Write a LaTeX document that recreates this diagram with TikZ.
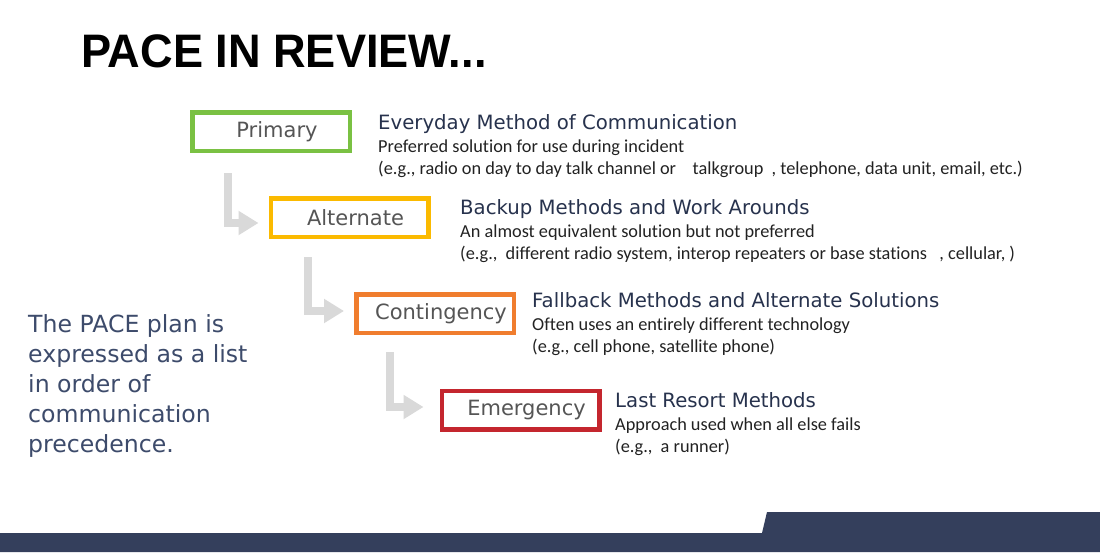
\documentclass[tikz,border=0pt]{standalone}
\usepackage{fontspec}
\usepackage{graphicx}
\usetikzlibrary{arrows.meta,calc}
\newfontfamily\djv{DejaVu Sans}
\newfontfamily\carl{Carlito}[Ligatures={NoCommon}]
\newfontfamily\libs{Liberation Sans}
\definecolor{pgreen}{HTML}{7AC143}
\definecolor{pyellow}{HTML}{FBBA00}
\definecolor{porange}{HTML}{F07D2E}
\definecolor{pred}{HTML}{C4262E}
\definecolor{navy}{HTML}{343F5C}
\definecolor{headc}{HTML}{27324D}
\definecolor{leftc}{HTML}{3D4B6B}
\definecolor{boxtxt}{HTML}{555555}
\definecolor{arrowgray}{HTML}{D9D9D9}
\definecolor{subc}{HTML}{222222}
\begin{document}
\begin{tikzpicture}[x=1pt,y=-1pt,
  pbox/.style={draw=#1, line width=4.5pt, fill=white, minimum width=157.5pt, minimum height=38.5pt, inner sep=0pt, font=\djv\fontsize{21}{24}\selectfont, text=boxtxt},
  headtxt/.style={anchor=base west, inner sep=0pt, font=\djv\fontsize{19.7}{22}\selectfont, text=headc},
  subtxt/.style={anchor=base west, inner sep=0pt, font=\carl\fontsize{18.3}{20}\selectfont, text=subc},
  lefttxt/.style={anchor=base west, inner sep=0pt, font=\djv\fontsize{23.6}{30}\selectfont, text=leftc},
  flow/.style={draw=arrowgray, line width=8pt, -{Triangle[length=20pt,width=23pt]}},
]
\useasboundingbox (0,0) rectangle (1100,552);
\fill[white] (0,0) rectangle (1100,552);
\fill[navy] (0,533) -- (762,533) -- (767,512) -- (1100,512) -- (1100,552) -- (0,552) -- cycle;

% title
\node[anchor=base west, inner sep=0pt, font=\libs\bfseries\fontsize{47}{54}\selectfont] (title) at (81,67) {\scalebox{0.96}[1]{PACE IN REVIEW...}};

% boxes
\node[pbox=pgreen]  (P) at (271,131.5) {\hspace*{12pt}Primary};
\node[pbox=pyellow] (A) at (349.5,217.5) {\hspace*{12pt}Alternate};
\node[pbox=porange] (C) at (435,313.5) {\hspace*{12pt}Contingency};
\node[pbox=pred]    (E) at (520.5,410) {\hspace*{12pt}Emergency};

% connectors
\draw[flow] ($(P.south west)+(38,20)$) |- ($(A.west)+(-10,5.5)$);
\draw[flow] ($(A.south west)+(39,18)$) |- ($(C.west)+(-10,-2.5)$);
\draw[flow] ($(C.south west)+(36,17)$) |- ($(E.west)+(-16,-3)$);

% descriptions
\node[headtxt] (Ph) at (378,129) {Everyday Method of Communication};
\node[subtxt]  (Ps) at (378,152) {Preferred solution for use during incident};
\node[subtxt]  (Pe) at (378,174) {(e.g., radio on day to day talk channel or\ \ \ \ talkgroup\ \ , telephone, data unit, email, etc.)};

\node[headtxt] (Ah) at (460,214) {Backup Methods and Work Arounds};
\node[subtxt]  (As) at (460,237) {An almost equivalent solution but not preferred};
\node[subtxt]  (Ae) at (460,259) {(e.g.,\ \ different radio system, interop repeaters or base stations\ \ \ , cellular, )};

\node[headtxt] (Ch) at (532,307) {Fallback Methods and Alternate Solutions};
\node[subtxt]  (Cs) at (532,330) {Often uses an entirely different technology};
\node[subtxt]  (Ce) at (532,352) {(e.g., cell phone, satellite phone)};

\node[headtxt] (Eh) at (615,407) {Last Resort Methods};
\node[subtxt]  (Es) at (615,430) {Approach used when all else fails};
\node[subtxt]  (Ee) at (615,452) {(e.g.,\ \ a runner)};

% left text
\node[lefttxt] (L1) at (28,332) {The PACE plan is};
\node[lefttxt] (L2) at (28,362) {expressed as a list};
\node[lefttxt] (L3) at (28,392) {in order of};
\node[lefttxt] (L4) at (28,422) {communication};
\node[lefttxt] (L5) at (28,452) {precedence.};
\end{tikzpicture}
\end{document}
